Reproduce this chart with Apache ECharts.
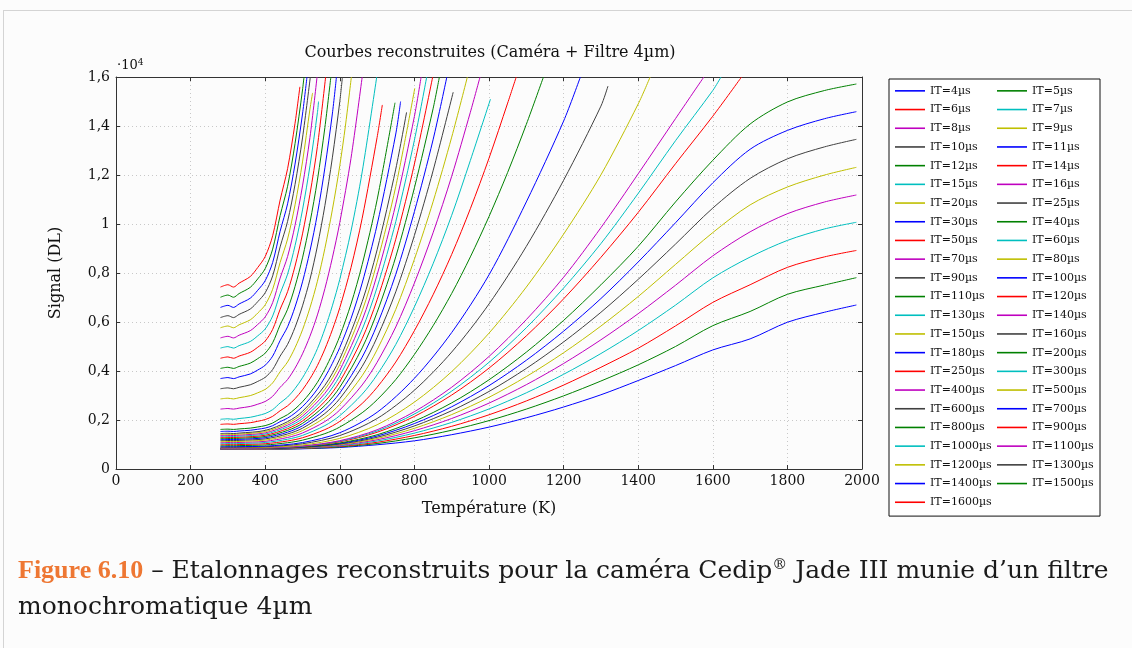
<!DOCTYPE html>
<html><head><meta charset="utf-8">
<script src="https://cdn.jsdelivr.net/npm/echarts@6/dist/echarts.min.js"></script>
<style>
html,body{margin:0;padding:0;background:#fcfcfc;}
#box{position:absolute;left:3px;top:10px;width:1140px;height:660px;border-top:1px solid #d4d4d4;border-left:1px solid #d4d4d4;}
#chart{position:absolute;left:0;top:0;width:1132px;height:648px;}
#caption{position:absolute;left:18px;top:552px;width:1112px;font-family:'DejaVu Serif';font-size:25px;line-height:36px;color:#1a1a1a;white-space:nowrap;}
#caption .fig{color:#ee7733;font-family:'Liberation Serif';font-weight:bold;font-size:26px;}
#caption sup{font-size:15px;line-height:0;}
</style></head>
<body>
<div id="box"></div>
<div id="chart"></div>
<div id="caption"><span class="fig">Figure 6.10</span> – Etalonnages reconstruits pour la caméra Cedip<sup>®</sup> Jade III munie d’un filtre<br>monochromatique 4µm</div>
<script>
// ---- data: [temperature K, signal DL] ----
const itValues = [4,5,6,7,8,9,10,11,12,14,15,16,20,25,30,40,50,60,70,80,90,100,110,120,130,140,150,160,180,200,250,300,400,500,600,700,800,900,1000,1100,1200,1300,1400,1500,1600];
const xTicks = [0,200,400,600,800,1000,1200,1400,1600,1800,2000];
const yTicks = [0,2000,4000,6000,8000,10000,12000,14000,16000];

const it4 = [[280,802],[300,802],[315,802],[330,802],[400,805],[500,824],[600,878],[700,989],[800,1150],[900,1400],[1000,1710],[1100,2090],[1200,2530],[1300,3029],[1400,3610],[1500,4220],[1600,4860],[1700,5310],[1800,5990],[1900,6400],[1985,6694]];
const it5 = [[280,806],[300,806],[315,806],[330,806],[400,810],[500,834],[600,901],[700,1040],[800,1271],[900,1583],[1000,1975],[1100,2445],[1200,2985],[1300,3590],[1400,4250],[1500,5000],[1600,5850],[1700,6430],[1800,7130],[1900,7510],[1985,7810]];
const it6 = [[280,810],[300,810],[315,810],[330,811],[400,815],[500,844],[600,924],[700,1091],[800,1368],[900,1742],[1000,2213],[1100,2777],[1200,3425],[1300,4151],[1400,4930],[1500,5840],[1600,6800],[1700,7520],[1800,8230],[1900,8660],[1985,8920]];
const it7 = [[280,814],[300,814],[315,814],[330,815],[400,820],[500,854],[600,947],[700,1142],[800,1465],[900,1902],[1000,2451],[1100,3109],[1200,3865],[1300,4712],[1400,5650],[1500,6690],[1600,7800],[1700,8650],[1800,9330],[1900,9800],[1985,10070]];
const it8 = [[280,818],[300,819],[315,818],[330,819],[400,824],[500,863],[600,971],[700,1193],[800,1563],[900,2061],[1000,2689],[1100,3441],[1200,4305],[1300,5273],[1400,6340],[1500,7500],[1600,8700],[1700,9680],[1800,10420],[1900,10900],[1985,11184]];
const it9 = [[280,822],[300,823],[315,822],[330,823],[400,829],[500,873],[600,994],[700,1244],[800,1660],[900,2221],[1000,2927],[1100,3773],[1200,4745],[1300,5834],[1400,7040],[1500,8350],[1600,9650],[1700,10780],[1800,11510],[1900,12000],[1985,12313]];
const it10 = [[280,827],[300,827],[315,827],[330,828],[400,834],[500,883],[600,1017],[700,1295],[800,1757],[900,2380],[1000,3165],[1100,4105],[1200,5185],[1300,6395],[1400,7740],[1500,9180],[1600,10650],[1700,11860],[1800,12660],[1900,13150],[1985,13456]];
const it11 = [[280,831],[300,831],[315,831],[330,832],[400,839],[500,893],[600,1040],[700,1346],[800,1854],[900,2540],[1000,3403],[1100,4437],[1200,5625],[1300,6956],[1400,8450],[1500,10050],[1600,11680],[1700,13050],[1800,13820],[1900,14300],[1985,14585]];
const it12 = [[280,835],[300,836],[315,835],[330,836],[400,844],[500,902],[600,1063],[700,1397],[800,1951],[900,2699],[1000,3641],[1100,4769],[1200,6065],[1300,7517],[1400,9089],[1500,10900],[1600,12600],[1700,14080],[1800,14980],[1900,15450],[1985,15714]];
const it14 = [[280,843],[300,844],[315,843],[330,845],[400,854],[500,922],[600,1110],[700,1499],[800,2146],[900,3018],[1000,4117],[1100,5433],[1200,6945],[1300,8639],[1400,10473],[1500,12461],[1600,14400],[1677,16000]];
const it15 = [[280,847],[300,848],[315,847],[330,849],[400,859],[500,932],[600,1133],[700,1550],[800,2243],[900,3178],[1000,4355],[1100,5765],[1200,7385],[1300,9200],[1400,11250],[1500,13400],[1600,15450],[1622,16000]];
const it16 = [[280,851],[300,852],[315,851],[330,853],[400,864],[500,942],[600,1156],[700,1601],[800,2340],[900,3337],[1000,4593],[1100,6097],[1200,7825],[1300,9850],[1400,12050],[1500,14300],[1576,16000]];
const it20 = [[280,868],[300,869],[315,868],[330,870],[400,884],[500,981],[600,1249],[700,1805],[800,2729],[900,3975],[1000,5545],[1100,7425],[1200,9585],[1300,12005],[1400,14900],[1432,16000]];
const it25 = [[280,889],[300,890],[315,889],[330,891],[400,908],[500,1030],[600,1365],[700,2060],[800,3215],[900,4773],[1000,6735],[1100,9085],[1200,11785],[1300,14810],[1319,15630]];
const it30 = [[280,910],[300,911],[315,910],[330,913],[400,933],[500,1079],[600,1481],[700,2315],[800,3701],[900,5570],[1000,7925],[1100,10900],[1200,14200],[1245,16000]];
const it40 = [[280,951],[300,953],[315,951],[330,955],[400,982],[460,1072],[500,1177],[560,1443],[600,1713],[660,2297],[700,2825],[750,3649],[800,4673],[850,5845],[900,7165],[950,8657],[1000,10305],[1050,12105],[1100,14065],[1146,16000]];
const it50 = [[280,993],[300,996],[315,993],[330,998],[400,1032],[460,1144],[500,1275],[560,1607],[600,1945],[660,2675],[700,3335],[750,4365],[800,5645],[850,7110],[900,8760],[950,10625],[1000,12685],[1050,14935],[1073,16000]];
const it60 = [[280,1034],[300,1038],[315,1034],[330,1040],[400,1081],[460,1215],[500,1372],[560,1771],[600,2177],[660,3053],[700,3845],[750,5081],[800,6617],[850,8375],[900,10355],[950,12593],[1004,15100]];
const it70 = [[280,1076],[300,1080],[315,1076],[330,1083],[400,1130],[460,1287],[500,1470],[560,1936],[600,2409],[660,3431],[700,4355],[750,5797],[800,7589],[850,9640],[900,11950],[950,14561],[976,16000]];
const it80 = [[280,1117],[300,1122],[315,1117],[330,1125],[400,1179],[460,1359],[500,1568],[560,2100],[600,2641],[660,3809],[700,4865],[750,6513],[800,8561],[850,10905],[900,13545],[942,16000]];
const it90 = [[280,1159],[300,1164],[315,1159],[330,1168],[400,1229],[460,1430],[500,1666],[560,2265],[600,2873],[660,4187],[700,5375],[750,7229],[800,9533],[850,12170],[904,15380]];
const it100 = [[280,1200],[300,1206],[315,1200],[330,1210],[400,1278],[460,1502],[500,1764],[560,2429],[600,3105],[660,4565],[700,5885],[750,7945],[800,10505],[850,13435],[887,16000]];
const it110 = [[280,1242],[300,1248],[315,1242],[330,1253],[400,1327],[460,1574],[500,1862],[560,2593],[600,3337],[660,4943],[700,6395],[750,8661],[800,11477],[850,14700],[867,16000]];
const it120 = [[280,1283],[300,1290],[315,1283],[330,1295],[400,1377],[460,1645],[500,1960],[560,2758],[600,3569],[660,5321],[700,6905],[750,9377],[800,12449],[849,16000]];
const it130 = [[280,1325],[300,1332],[315,1325],[330,1338],[400,1426],[460,1717],[500,2058],[560,2922],[600,3801],[660,5699],[700,7415],[750,10093],[800,13421],[833,16000]];
const it140 = [[280,1366],[300,1374],[315,1366],[330,1380],[400,1475],[460,1789],[500,2156],[560,3087],[600,4033],[660,6077],[700,7925],[750,10809],[800,14393],[818,16000]];
const it150 = [[280,1408],[300,1417],[315,1408],[330,1423],[400,1525],[460,1861],[500,2254],[560,3251],[600,4265],[660,6455],[700,8435],[750,11525],[801,15540]];
const it160 = [[280,1449],[300,1459],[315,1449],[330,1465],[400,1574],[460,1932],[500,2351],[560,3415],[600,4497],[660,6833],[700,8945],[750,12241],[779,14560]];
const it180 = [[280,1532],[300,1543],[315,1532],[330,1550],[360,1581],[380,1622],[400,1672],[420,1768],[440,1932],[460,2076],[480,2284],[500,2547],[520,2871],[540,3262],[560,3744],[580,4309],[600,4961],[630,6138],[660,7589],[700,9965],[750,13673],[763,15000]];
const it200 = [[280,1615],[300,1627],[315,1615],[330,1635],[360,1669],[380,1715],[400,1771],[420,1877],[440,2059],[460,2219],[480,2451],[500,2743],[520,3103],[540,3537],[560,4073],[580,4701],[600,5425],[630,6733],[660,8345],[700,10985],[748,14950]];
const it250 = [[280,1822],[300,1838],[315,1823],[330,1848],[360,1890],[380,1948],[400,2018],[420,2150],[440,2378],[460,2578],[480,2868],[500,3233],[520,3683],[540,4225],[560,4895],[580,5680],[600,6585],[630,8220],[660,10235],[700,13535],[714,14860]];
const it300 = [[280,2030],[300,2048],[315,2030],[330,2060],[360,2111],[380,2180],[400,2264],[420,2423],[440,2696],[460,2936],[480,3284],[500,3722],[520,4262],[540,4913],[560,5717],[580,6659],[600,7745],[630,9707],[660,12125],[699,16000]];
const it400 = [[280,2445],[300,2469],[315,2445],[330,2485],[360,2553],[380,2645],[400,2757],[420,2969],[440,3333],[460,3653],[480,4117],[500,4701],[520,5421],[540,6289],[560,7361],[580,8617],[600,10065],[630,12681],[660,16000]];
const it500 = [[280,2860],[300,2890],[315,2860],[330,2910],[360,2995],[380,3110],[400,3250],[420,3515],[440,3970],[460,4370],[480,4950],[500,5680],[520,6580],[540,7665],[560,9005],[580,10575],[600,12385],[615,14000],[631,16000]];
const it600 = [[280,3275],[300,3311],[315,3275],[330,3335],[360,3437],[380,3575],[400,3743],[420,4061],[440,4607],[460,5087],[480,5783],[500,6659],[520,7739],[540,9100],[560,10750],[580,12700],[600,15000],[607,16000]];
const it700 = [[280,3690],[300,3732],[315,3690],[330,3760],[360,3879],[380,4040],[400,4236],[420,4607],[440,5244],[460,5804],[480,6616],[500,7638],[520,8898],[540,10417],[560,12293],[580,14491],[591,16000]];
const it800 = [[280,4105],[300,4153],[315,4105],[330,4185],[360,4321],[380,4505],[400,4729],[420,5153],[440,5881],[460,6521],[480,7449],[500,8617],[520,10057],[540,11793],[560,13937],[576,16000]];
const it900 = [[280,4520],[300,4574],[315,4520],[330,4610],[360,4763],[380,4970],[400,5222],[420,5699],[440,6518],[460,7238],[480,8282],[500,9596],[520,11216],[540,13169],[562,16000]];
const it1000 = [[280,4935],[300,4995],[315,4935],[330,5035],[360,5205],[380,5435],[400,5715],[420,6245],[440,7155],[460,7955],[480,9115],[500,10575],[520,12375],[540,14545],[543,15000]];
const it1100 = [[280,5350],[300,5416],[315,5350],[330,5460],[360,5647],[380,5900],[400,6208],[420,6791],[440,7792],[460,8672],[480,9948],[500,11554],[520,13534],[539,16000]];
const it1200 = [[280,5765],[300,5837],[315,5765],[330,5885],[360,6089],[380,6365],[400,6701],[420,7337],[440,8429],[460,9389],[480,10781],[500,12533],[520,14693],[527,15350]];
const it1300 = [[280,6180],[300,6258],[315,6180],[330,6310],[360,6531],[380,6830],[400,7194],[420,7883],[440,9066],[460,10106],[480,11614],[500,13512],[521,16000]];
const it1400 = [[280,6595],[300,6679],[315,6595],[330,6735],[360,6973],[380,7295],[400,7687],[420,8429],[440,9703],[460,10823],[480,12447],[500,14491],[512,16000]];
const it1500 = [[280,7010],[300,7100],[315,7010],[330,7160],[360,7415],[380,7760],[400,8180],[420,8975],[440,10340],[460,11540],[480,13280],[500,15470],[504,16000]];
const it1600 = [[280,7425],[300,7521],[315,7425],[330,7585],[360,7857],[380,8225],[400,8673],[420,9521],[440,10977],[460,12257],[480,14113],[493,15600]];

const seriesData = [it4,it5,it6,it7,it8,it9,it10,it11,it12,it14,it15,it16,it20,it25,it30,it40,it50,it60,it70,it80,it90,it100,it110,it120,it130,it140,it150,it160,it180,it200,it250,it300,it400,it500,it600,it700,it800,it900,it1000,it1100,it1200,it1300,it1400,it1500,it1600];
const palette = ['#0000ff','#008000','#ff0000','#00bfbf','#bf00bf','#bfbf00','#404040'];

const FONT = 'DejaVu Serif';
const chart = echarts.init(document.getElementById('chart'), null, {renderer:'canvas'});
const names = itValues.map(v => 'IT=' + v + 'µs');
const series = itValues.map((v, i) => ({
  name: names[i], type: 'line', data: seriesData[i],
  showSymbol: false, symbol: 'none', smooth: 0.3, clip: true,
  lineStyle: {width: 1, color: palette[i % 7]},
  itemStyle: {color: palette[i % 7]},
  emphasis: {disabled: true}
}));
const axisCol = '#333';
const yFmt = v => v === 0 ? '0' : String(v / 10000).replace('.', ',');
const xFmt = v => String(v);
chart.setOption({
  animation: false,
  grid: {left: 116, right: 270, top: 77, bottom: 179, show: false},
  legend: {
    data: names, left: 889, top: 79, width: 214, orient: 'horizontal',
    padding: [5, 6, 7, 6], itemGap: 5, itemWidth: 30, itemHeight: 1.6, icon: 'rect',
    backgroundColor: '#fff', borderColor: '#111', borderWidth: 1, borderRadius: 0,
    selectedMode: false,
    textStyle: {fontFamily: FONT, fontSize: 11, color: '#111', width: 62, lineHeight: 13.7}
  },
  xAxis: [{
    type: 'value', min: xTicks[0], max: xTicks[xTicks.length - 1], interval: xTicks[1] - xTicks[0], position: 'bottom',
    name: 'Température (K)', nameLocation: 'middle', nameGap: 32,
    nameTextStyle: {fontFamily: FONT, fontSize: 16, color: '#111'},
    axisLine: {show: true, onZero: false, lineStyle: {color: axisCol, width: 1}},
    axisTick: {show: true, inside: true, length: 4, lineStyle: {color: axisCol}},
    axisLabel: {fontFamily: FONT, fontSize: 14, color: '#111', margin: 5, formatter: xFmt},
    splitLine: {show: true, lineStyle: {type: [1, 3], color: '#c8c8c8', width: 1}}
  }, {
    type: 'value', min: xTicks[0], max: xTicks[xTicks.length - 1], interval: xTicks[1] - xTicks[0], position: 'top',
    axisLine: {show: true, onZero: false, lineStyle: {color: axisCol, width: 1}},
    axisTick: {show: true, inside: true, length: 4, lineStyle: {color: axisCol}},
    axisLabel: {show: false}, splitLine: {show: false}
  }],
  yAxis: [{
    type: 'value', min: yTicks[0], max: yTicks[yTicks.length - 1], interval: yTicks[1] - yTicks[0], position: 'left',
    name: 'Signal (DL)', nameLocation: 'middle', nameGap: 52, nameRotate: 90,
    nameTextStyle: {fontFamily: FONT, fontSize: 16, color: '#111'},
    axisLine: {show: true, onZero: false, lineStyle: {color: axisCol, width: 1}},
    axisTick: {show: true, inside: true, length: 4, lineStyle: {color: axisCol}},
    axisLabel: {fontFamily: FONT, fontSize: 14, color: '#111', margin: 6, formatter: yFmt},
    splitLine: {show: true, lineStyle: {type: [1, 3], color: '#c8c8c8', width: 1}}
  }, {
    type: 'value', min: yTicks[0], max: yTicks[yTicks.length - 1], interval: yTicks[1] - yTicks[0], position: 'right',
    axisLine: {show: true, onZero: false, lineStyle: {color: axisCol, width: 1}},
    axisTick: {show: true, inside: true, length: 4, lineStyle: {color: axisCol}},
    axisLabel: {show: false}, splitLine: {show: false}
  }],
  graphic: [
    {type: 'text', x: 490, y: 53, style: {text: 'Courbes reconstruites (Caméra + Filtre 4µm)', fontFamily: FONT, fontSize: 16, fill: '#111', align: 'center', verticalAlign: 'middle'}},
    {type: 'text', x: 117, y: 58, style: {text: '·10{s|4}', fontFamily: FONT, fontSize: 13, fill: '#111', rich: {s: {fontSize: 9, verticalAlign: 'top', padding: [0,0,6,0], fontFamily: FONT, fill: '#111'}}}}
  ],
  series: series
});
</script>
</body></html>
